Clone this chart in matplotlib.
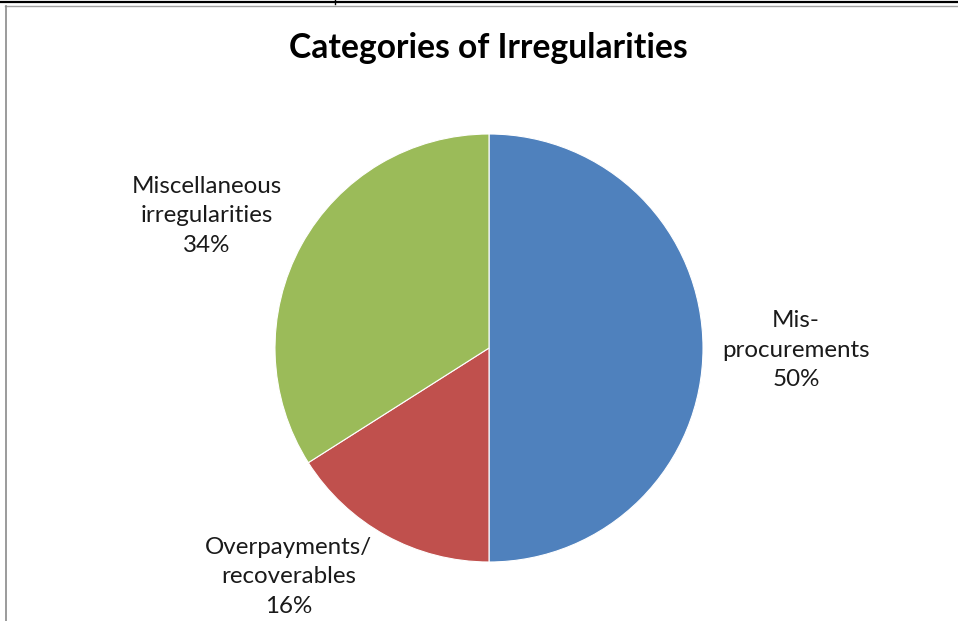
import matplotlib
matplotlib.use('Agg')
import matplotlib.pyplot as plt
from matplotlib.lines import Line2D

# data
categories = ['Mis-\nprocurements', 'Overpayments/\nrecoverables', 'Miscellaneous\nirregularities']
shares = [50, 16, 34]
colors = ['#4F81BD', '#C0504D', '#9BBB59']
title = 'Categories of Irregularities'

# label layout (axes data units, pie radius = 1)
label_pos = [(1.435, -0.01), (-0.935, -1.07), (-1.318, 0.617)]

plt.rcParams['font.family'] = ['Lato', 'DejaVu Sans']

W, H = 958, 621
fig = plt.figure(figsize=(W / 100, H / 100), dpi=100)
fig.patch.set_facecolor('white')

cx, cy, r = 489, 348, 214
ax = fig.add_axes([(cx - r) / W, (H - cy - r) / H, 2 * r / W, 2 * r / H])
wedges, texts = ax.pie(shares, colors=colors, startangle=90, counterclock=False,
                       radius=1, labels=None,
                       wedgeprops=dict(linewidth=0.8, edgecolor='white'))
ax.set_xlim(-1, 1)
ax.set_ylim(-1, 1)
ax.set_aspect('equal')
ax.axis('off')

for name, val, (x, y) in zip(categories, shares, label_pos):
	ax.text(x, y, name + '\n' + str(val) + '%', ha='center', va='center',
			fontsize=17.4, linespacing=1.52, color='#1a1a1a', clip_on=False)

fig.text(488 / W, 1 - 48 / H, title, ha='center', va='center',
		 fontsize=24.2, fontweight='bold')

# frame lines around the chart
fig.add_artist(Line2D([0, 1], [1 - 2 / H, 1 - 2 / H], color='black', lw=1.6))
fig.add_artist(Line2D([335 / W, 335 / W], [1, 1 - 4 / H], color='black', lw=1))
fig.add_artist(Line2D([5 / W, 1], [1 - 5.5 / H, 1 - 5.5 / H], color='#a0a0a0', lw=1))
fig.add_artist(Line2D([5.5 / W, 5.5 / W], [0, 1 - 5.5 / H], color='#8a8a8a', lw=1.2))

fig.savefig('out.png', dpi=100)
